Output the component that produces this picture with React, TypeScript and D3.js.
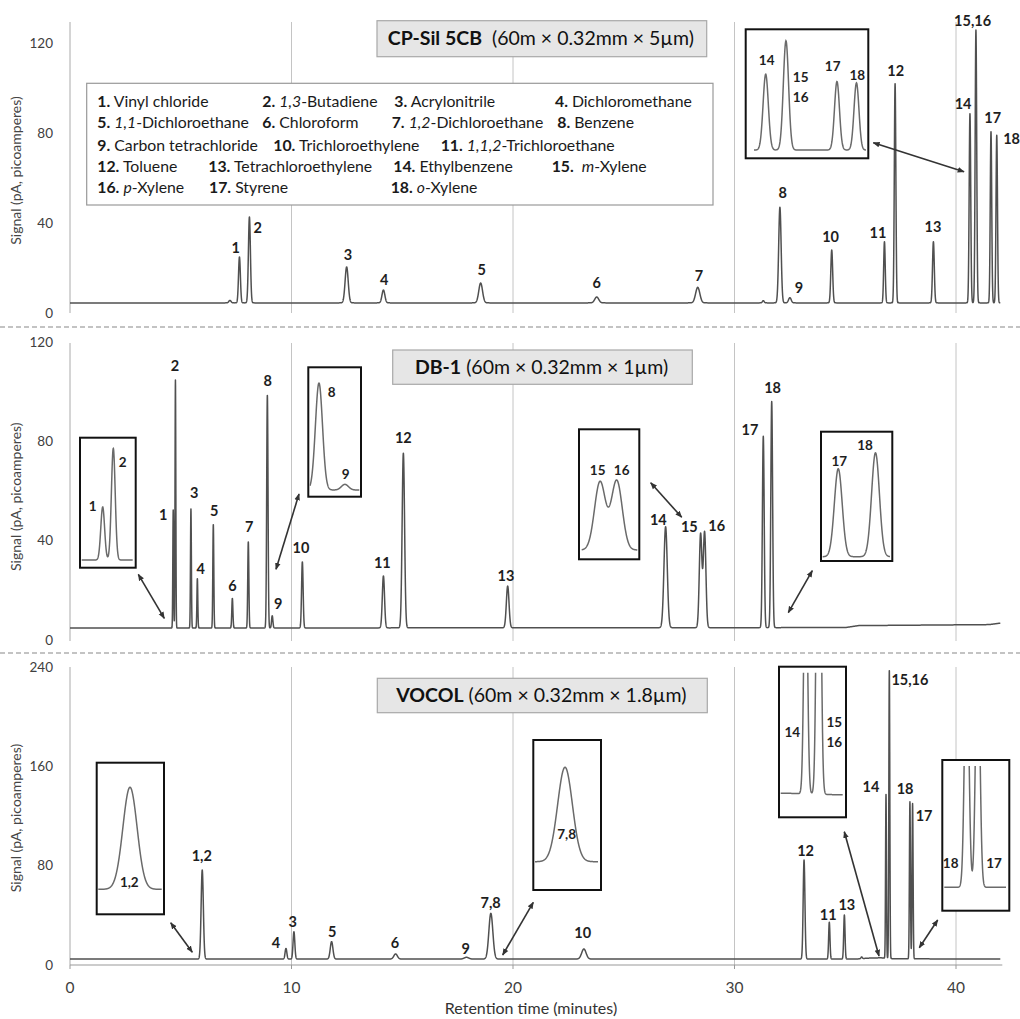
import React from "react";
import * as d3 from "d3";

const FONT = "Lato, 'Open Sans', 'DejaVu Sans', sans-serif";

// ---------------- DATA ----------------
const X_TICKS = [0, 10, 20, 30, 40];
const TIME_MAX = 42;

// Compound legend
const compounds: { it?: string; name: string }[] = [
  { name: "Vinyl chloride" },
  { it: "1,3", name: "-Butadiene" },
  { name: "Acrylonitrile" },
  { name: "Dichloromethane" },
  { it: "1,1", name: "-Dichloroethane" },
  { name: "Chloroform" },
  { it: "1,2", name: "-Dichloroethane" },
  { name: "Benzene" },
  { name: "Carbon tetrachloride" },
  { name: "Trichloroethylene" },
  { it: "1,1,2", name: "-Trichloroethane" },
  { name: "Toluene" },
  { name: "Tetrachloroethylene" },
  { name: "Ethylbenzene" },
  { it: "m", name: "-Xylene" },
  { it: "p", name: "-Xylene" },
  { name: "Styrene" },
  { it: "o", name: "-Xylene" },
];

// Panel 1: CP-Sil 5CB
const cpsilTimes = [7.22, 7.65, 8.1, 12.49, 14.15, 18.54, 23.78, 28.34, 31.3, 32.05, 32.5, 34.39, 36.77, 37.25, 38.98, 40.63, 40.9, 41.58, 41.84];
const cpsilApex = [5.6, 24.9, 42.7, 20.5, 10.2, 13.3, 7.1, 11.4, 5.5, 47, 6.8, 28, 31.7, 102, 31.7, 88.7, 125.8, 80.6, 79];
const cpsilSigma = [0.05, 0.042, 0.045, 0.07, 0.065, 0.085, 0.09, 0.095, 0.04, 0.055, 0.06, 0.042, 0.035, 0.035, 0.04, 0.035, 0.035, 0.033, 0.033];
const cpsilBaseT = [0, 42];
const cpsilBaseV = [4.5, 4.5];
const cpsilLabels = [
  { text: "1", t: 7.48, v: 28.9 }, { text: "2", t: 8.47, v: 37.8 }, { text: "3", t: 12.55, v: 25.8 },
  { text: "4", t: 14.18, v: 14.7 }, { text: "5", t: 18.59, v: 19.1 }, { text: "6", t: 23.78, v: 13.3 },
  { text: "7", t: 28.4, v: 16.4 }, { text: "8", t: 32.18, v: 53.5 }, { text: "9", t: 32.91, v: 11.1 },
  { text: "10", t: 34.34, v: 33.8 }, { text: "11", t: 36.48, v: 35.6 }, { text: "12", t: 37.28, v: 107.7 },
  { text: "13", t: 38.96, v: 38.4 }, { text: "14", t: 40.32, v: 92.9 }, { text: "15,16", t: 40.75, v: 129.9 },
  { text: "17", t: 41.66, v: 86.7 }, { text: "18", t: 42.51, v: 77.3 },
];

// Panel 2: DB-1
const db1Times = [4.66, 4.76, 5.46, 5.75, 6.47, 7.33, 8.05, 8.91, 9.13, 10.49, 14.15, 15.05, 19.76, 26.89, 28.47, 28.65, 31.3, 31.68];
const db1Apex = [52.3, 104.7, 52.8, 24.8, 46.6, 16.8, 39.6, 98.7, 9.8, 31.5, 25.8, 75.2, 21.7, 45.6, 42.7, 43.4, 82, 96];
const db1Sigma = [0.018, 0.018, 0.02, 0.02, 0.022, 0.025, 0.025, 0.03, 0.03, 0.035, 0.05, 0.055, 0.06, 0.075, 0.059, 0.059, 0.04, 0.04];
const db1BaseT = [0, 35.0, 35.6, 41.5, 42];
const db1BaseV = [4.8, 5.0, 5.8, 6.2, 6.8];
const db1Labels = [
  { text: "1", t: 4.21, v: 50.3 }, { text: "2", t: 4.74, v: 110.3 }, { text: "3", t: 5.61, v: 59.1 },
  { text: "4", t: 5.9, v: 28.5 }, { text: "5", t: 6.51, v: 52.0 }, { text: "6", t: 7.33, v: 21.9 },
  { text: "7", t: 8.09, v: 45.6 }, { text: "8", t: 8.93, v: 104.4 }, { text: "9", t: 9.4, v: 14.5 },
  { text: "10", t: 10.43, v: 36.9 }, { text: "11", t: 14.1, v: 30.9 }, { text: "12", t: 15.05, v: 81.2 },
  { text: "13", t: 19.68, v: 25.9 }, { text: "14", t: 26.56, v: 48.3 }, { text: "15", t: 27.96, v: 45.4 },
  { text: "16", t: 29.2, v: 45.9 }, { text: "17", t: 30.7, v: 84.6 }, { text: "18", t: 31.72, v: 101.6 },
];

// Panel 3: VOCOL
const vocolTimes = [5.97, 9.75, 10.11, 11.81, 14.7, 17.9, 19.0, 23.2, 33.14, 34.28, 34.96, 35.74, 36.84, 36.99, 37.92, 38.04];
const vocolApex = [76.5, 13.4, 26.8, 18.8, 8.9, 6.2, 41.6, 12.9, 84.5, 34.4, 40.3, 6.5, 137.4, 238, 131.5, 130];
const vocolSigma = [0.05, 0.04, 0.04, 0.06, 0.08, 0.1, 0.09, 0.1, 0.04, 0.03, 0.03, 0.03, 0.02, 0.022, 0.023, 0.023];
const vocolBaseT = [0, 35.5, 36.0, 36.6, 37.2, 42];
const vocolBaseV = [4.8, 4.8, 5.5, 5.8, 5.0, 4.8];
const vocolLabels = [
  { text: "1,2", t: 5.95, v: 87.8 }, { text: "4", t: 9.3, v: 18.0 }, { text: "3", t: 10.05, v: 34.9 },
  { text: "5", t: 11.84, v: 26.8 }, { text: "6", t: 14.67, v: 17.5 }, { text: "9", t: 17.86, v: 12.9 },
  { text: "7,8", t: 18.99, v: 50.2 }, { text: "10", t: 23.15, v: 26.0 }, { text: "12", t: 33.21, v: 92.0 },
  { text: "11", t: 34.23, v: 40.3 }, { text: "13", t: 35.07, v: 48.3 }, { text: "14", t: 36.16, v: 143.6 },
  { text: "15,16", t: 37.92, v: 229.5 }, { text: "18", t: 37.7, v: 141.5 }, { text: "17", t: 38.56, v: 120.2 },
];

const cpsilYTicks = [0, 40, 80, 120];
const db1YTicks = [0, 40, 80, 120];
const vocolYTicks = [0, 80, 160, 240];

// ---------------- LAYOUT ----------------
const X0 = 70;
const PX_PER_MIN = 22.15;

type PanelDef = {
  times: number[]; apex: number[]; sigma: number[]; baseT: number[]; baseV: number[];
  labels: { text: string; t: number; v: number }[];
  yTicks: number[]; yRange: [number, number]; plotTop: number; plotBottom: number;
  titleBold: string; titleRest: string; titleBox: [number, number, number, number];
  axisTitleY: number; xAxis: boolean;
};

const panels: PanelDef[] = [
  {
    times: cpsilTimes, apex: cpsilApex, sigma: cpsilSigma, baseT: cpsilBaseT, baseV: cpsilBaseV,
    labels: cpsilLabels, yTicks: cpsilYTicks, yRange: [313, 43], plotTop: 22, plotBottom: 313,
    titleBold: "CP-Sil 5CB", titleRest: "  (60m × 0.32mm × 5µm)", titleBox: [377, 20.7, 329.7, 36],
    axisTitleY: 170.5, xAxis: false,
  },
  {
    times: db1Times, apex: db1Apex, sigma: db1Sigma, baseT: db1BaseT, baseV: db1BaseV,
    labels: db1Labels, yTicks: db1YTicks, yRange: [640, 342], plotTop: 343, plotBottom: 641,
    titleBold: "DB-1", titleRest: " (60m × 0.32mm × 1µm)", titleBox: [392.7, 350, 299.6, 34.3],
    axisTitleY: 496.7, xAxis: false,
  },
  {
    times: vocolTimes, apex: vocolApex, sigma: vocolSigma, baseT: vocolBaseT, baseV: vocolBaseV,
    labels: vocolLabels, yTicks: vocolYTicks, yRange: [965, 667], plotTop: 667, plotBottom: 965,
    titleBold: "VOCOL", titleRest: " (60m × 0.32mm × 1.8µm)", titleBox: [377.3, 678.3, 330, 34.4],
    axisTitleY: 818, xAxis: true,
  },
];

type InsetDef = {
  panel: number; box: [number, number, number, number]; x0: number; x1: number;
  t0: number; t1: number; basePx: number; k: number; clipTop: number;
  labels: { text: string; x: number; y: number }[];
};

const insets: InsetDef[] = [
  { panel: 0, box: [745.7, 29.3, 122.6, 129], x0: 754, x1: 866, t0: 40.474, t1: 41.967, basePx: 150, k: 0.9, clipTop: 31,
    labels: [{ text: "14", x: 766.7, y: 60 }, { text: "15", x: 800.7, y: 77.7 }, { text: "16", x: 800.7, y: 97.7 }, { text: "17", x: 832.7, y: 66.7 }, { text: "18", x: 857.3, y: 75 }] },
  { panel: 1, box: [80, 437.7, 55.7, 130], x0: 81.7, x1: 132.7, t0: 4.462, t1: 4.943, basePx: 560, k: 1.117, clipTop: 440,
    labels: [{ text: "1", x: 92.7, y: 506.7 }, { text: "2", x: 122.7, y: 462.3 }] },
  { panel: 1, box: [308.3, 367.3, 52.7, 129.4], x0: 310, x1: 359.3, t0: 8.834, t1: 9.252, basePx: 490, k: 1.14, clipTop: 369,
    labels: [{ text: "8", x: 331.7, y: 392.3 }, { text: "9", x: 345.7, y: 474 }] },
  { panel: 1, box: [579, 429.3, 60.3, 130], x0: 581.7, x1: 637.3, t0: 28.273, t1: 28.871, basePx: 550, k: 1.805, clipTop: 431,
    labels: [{ text: "15", x: 597.7, y: 470.7 }, { text: "16", x: 621.7, y: 470.7 }] },
  { panel: 1, box: [821, 431.7, 71.3, 129.3], x0: 822.7, x1: 890, t0: 31.141, t1: 31.828, basePx: 556.7, k: 1.142, clipTop: 433,
    labels: [{ text: "17", x: 839.3, y: 461.7 }, { text: "18", x: 865, y: 445 }] },
  { panel: 2, box: [96.7, 762.7, 67.3, 151.6], x0: 98.3, x1: 161.7, t0: 5.747, t1: 6.193, basePx: 889.3, k: 1.423, clipTop: 764,
    labels: [{ text: "1,2", x: 129.3, y: 882.3 }] },
  { panel: 2, box: [533.3, 740, 67.7, 150], x0: 535, x1: 598, t0: 18.634, t1: 19.402, basePx: 861.7, k: 2.566, clipTop: 742,
    labels: [{ text: "7,8", x: 566.7, y: 834 }] },
  { panel: 2, box: [779, 666.7, 67, 150.6], x0: 780.7, x1: 842.7, t0: 36.553, t1: 37.266, basePx: 794, k: 2.0, clipTop: 672.7,
    labels: [{ text: "14", x: 792.3, y: 732.7 }, { text: "15", x: 834.3, y: 722.7 }, { text: "16", x: 834.3, y: 742.7 }] },
  { panel: 2, box: [942.3, 760, 67, 150.7], x0: 944.3, x1: 1006, t0: 37.677, t1: 38.347, basePx: 887.3, k: 2.0, clipTop: 766,
    labels: [{ text: "18", x: 950.7, y: 863.3 }, { text: "17", x: 994, y: 863.3 }] },
];

const arrows: [number, number, number, number][] = [
  [873.3, 142.7, 964, 171.7],
  [138.3, 574.3, 164.3, 618.3],
  [299, 494, 276, 569.3],
  [650.7, 482.7, 681.7, 517.3],
  [788.3, 612.7, 812.3, 570.7],
  [170.7, 922.7, 192.3, 952.3],
  [533.3, 902.3, 502.7, 955],
  [844.3, 831.7, 879, 956],
  [937.7, 920, 919.3, 947.7],
];

const legendBox: [number, number, number, number] = [86.7, 83.3, 626.3, 121.7];
const legendRows = [[0, 1, 2, 3], [4, 5, 6, 7], [8, 9, 10], [11, 12, 13, 14], [15, 16, 17]];
const legendColX = [[97.3, 262.3, 394.3, 555], [97.3, 262.3, 391.7, 557.3], [97.3, 273.3, 440.7], [97.3, 208.3, 393.3, 551.7], [97.3, 209, 390.7]];
const legendRowY = [101.7, 122.7, 145, 166.7, 187.3];

// ---------------- HELPERS ----------------
function makeSignal(p: { times: number[]; apex: number[]; sigma: number[]; baseT: number[]; baseV: number[] }) {
  const base = d3.scaleLinear().domain(p.baseT).range(p.baseV).clamp(true);
  const amps = p.times.map((t, i) => p.apex[i] - base(t));
  const fn = (t: number) => {
    let s = base(t);
    for (let i = 0; i < p.times.length; i++) {
      const d = t - p.times[i];
      const sg = p.sigma[i];
      if (Math.abs(d) < 8 * sg) s += amps[i] * Math.exp(-(d * d) / (2 * sg * sg));
    }
    return s;
  };
  return { fn, base };
}

const xScale = d3.scaleLinear().domain([0, TIME_MAX]).range([X0, X0 + TIME_MAX * PX_PER_MIN]);
const mainTimes = d3.range(0, TIME_MAX + 1e-9, 0.004);

export default function App() {
  const signals = panels.map((p) => makeSignal(p));
  const lineColor = "#505050";
  const gridColor = "#c4c4c4";

  return (
    <div style={{ position: "absolute", left: 0, top: 0, width: 1020, height: 1019, background: "#fff" }}>
      <svg width={1020} height={1019} viewBox="0 0 1020 1019" style={{ display: "block", fontFamily: FONT }}>
        <defs>
          <marker id="ah" viewBox="0 0 10 10" refX="9" refY="5" markerWidth="7" markerHeight="7" orient="auto-start-reverse" markerUnits="userSpaceOnUse">
            <path d="M0,1 L10,5 L0,9 z" fill="#333" />
          </marker>
          {insets.map((ins, i) => (
            <clipPath id={`clip${i}`} key={i}>
              <rect x={ins.box[0] + 1} y={ins.clipTop} width={ins.box[2] - 2} height={ins.box[1] + ins.box[3] - ins.clipTop - 1} />
            </clipPath>
          ))}
        </defs>
        <rect x={0} y={0} width={1020} height={1019} fill="#fff" />

        {/* separators */}
        {[327, 653].map((y) => (
          <line key={y} x1={0} x2={1020} y1={y} y2={y} stroke="#b0b0b0" strokeWidth={1.3} strokeDasharray="5,3" />
        ))}

        {panels.map((p, pi) => {
          const y = d3.scaleLinear().domain([p.yTicks[0], p.yTicks[p.yTicks.length - 1]]).range(p.yRange);
          const sig = signals[pi].fn;
          const line = d3.line<number>().x((t) => xScale(t)).y((t) => y(sig(t)));
          return (
            <g key={pi}>
              {/* gridlines */}
              {X_TICKS.map((t) => (
                <line key={t} x1={xScale(t)} x2={xScale(t)} y1={p.plotTop} y2={p.plotBottom} stroke={t === 0 ? "#aaa" : gridColor} strokeWidth={1} />
              ))}
              {p.xAxis && (
                <g>
                  <line x1={xScale(0)} x2={xScale(TIME_MAX) + 2} y1={y(0)} y2={y(0)} stroke="#999" strokeWidth={1} />
                  {X_TICKS.map((t) => (
                    <g key={t}>
                      <line x1={xScale(t)} x2={xScale(t)} y1={y(0)} y2={y(0) + 4} stroke="#999" />
                      <text x={xScale(t)} y={993} textAnchor="middle" fontSize={15.5} fill="#404040">{t}</text>
                    </g>
                  ))}
                </g>
              )}
              {/* y ticks */}
              {p.yTicks.map((v) => (
                <text key={v} x={53} y={y(v) + 4.5} textAnchor="end" fontSize={13.5} fill="#404040">{v}</text>
              ))}
              <text transform={`translate(21,${p.axisTitleY}) rotate(-90)`} textAnchor="middle" fontSize={14} fill="#454545">
                Signal (pA, picoamperes)
              </text>
              {/* trace */}
              <path d={line(mainTimes) || ""} fill="none" stroke={lineColor} strokeWidth={1.5} strokeLinejoin="round" />
              {/* peak labels */}
              {p.labels.map((l, li) => (
                <text key={li} x={xScale(l.t)} y={y(l.v) + 5} textAnchor="middle" fontSize={14.5} fontWeight="bold" fill="#1e1e1e">{l.text}</text>
              ))}
              {/* title box */}
              <rect x={p.titleBox[0]} y={p.titleBox[1]} width={p.titleBox[2]} height={p.titleBox[3]} fill="#e6e6e6" stroke="#a8a8a8" strokeWidth={1.2} />
              <text x={p.titleBox[0] + p.titleBox[2] / 2 - 1} y={p.titleBox[1] + p.titleBox[3] / 2 + 6.5} textAnchor="middle" fontSize={19.5} fill="#111" style={{ whiteSpace: "pre" }}>
                <tspan fontWeight="bold">{p.titleBold}</tspan>
                <tspan>{p.titleRest}</tspan>
              </text>
            </g>
          );
        })}

        {/* x axis title */}
        <text x={531} y={1014} textAnchor="middle" fontSize={16} fill="#333">Retention time (minutes)</text>

        {/* legend */}
        <rect x={legendBox[0]} y={legendBox[1]} width={legendBox[2]} height={legendBox[3]} fill="#fff" stroke="#999" strokeWidth={1.2} />
        {legendRows.map((row, ri) =>
          row.map((ci, k) => {
            const c = compounds[ci];
            return (
              <text key={ci} x={legendColX[ri][k]} y={legendRowY[ri] + 5.5} fontSize={15.8} fill="#1a1a1a" style={{ whiteSpace: "pre" }}>
                <tspan fontWeight="bold">{`${ci + 1}.`}</tspan>
                <tspan>{ci === 14 ? "  " : " "}</tspan>
                {c.it && <tspan fontStyle="italic">{c.it}</tspan>}
                <tspan>{c.name}</tspan>
              </text>
            );
          })
        )}

        {/* insets */}
        {insets.map((ins, i) => {
          const s = signals[ins.panel];
          const bmid = s.base((ins.t0 + ins.t1) / 2);
          const ix = d3.scaleLinear().domain([ins.t0, ins.t1]).range([ins.x0, ins.x1]);
          const iy = d3.scaleLinear().domain([bmid, bmid + 1]).range([ins.basePx, ins.basePx - ins.k]);
          const ts = d3.range(ins.t0, ins.t1 + 1e-9, (ins.t1 - ins.t0) / 400);
          const line = d3.line<number>().x((t) => ix(t)).y((t) => iy(s.fn(t)));
          return (
            <g key={i}>
              <rect x={ins.box[0]} y={ins.box[1]} width={ins.box[2]} height={ins.box[3]} fill="#fff" stroke="#111" strokeWidth={2} />
              <path d={line(ts) || ""} fill="none" stroke="#6a6a6a" strokeWidth={1.5} clipPath={`url(#clip${i})`} />
              {ins.labels.map((l, li) => (
                <text key={li} x={l.x} y={l.y + 4.5} textAnchor="middle" fontSize={13.5} fontWeight="bold" fill="#1e1e1e">{l.text}</text>
              ))}
            </g>
          );
        })}

        {/* arrows */}
        {arrows.map((a, i) => (
          <line key={i} x1={a[0]} y1={a[1]} x2={a[2]} y2={a[3]} stroke="#333" strokeWidth={1.6} markerStart="url(#ah)" markerEnd="url(#ah)" />
        ))}
      </svg>
    </div>
  );
}
